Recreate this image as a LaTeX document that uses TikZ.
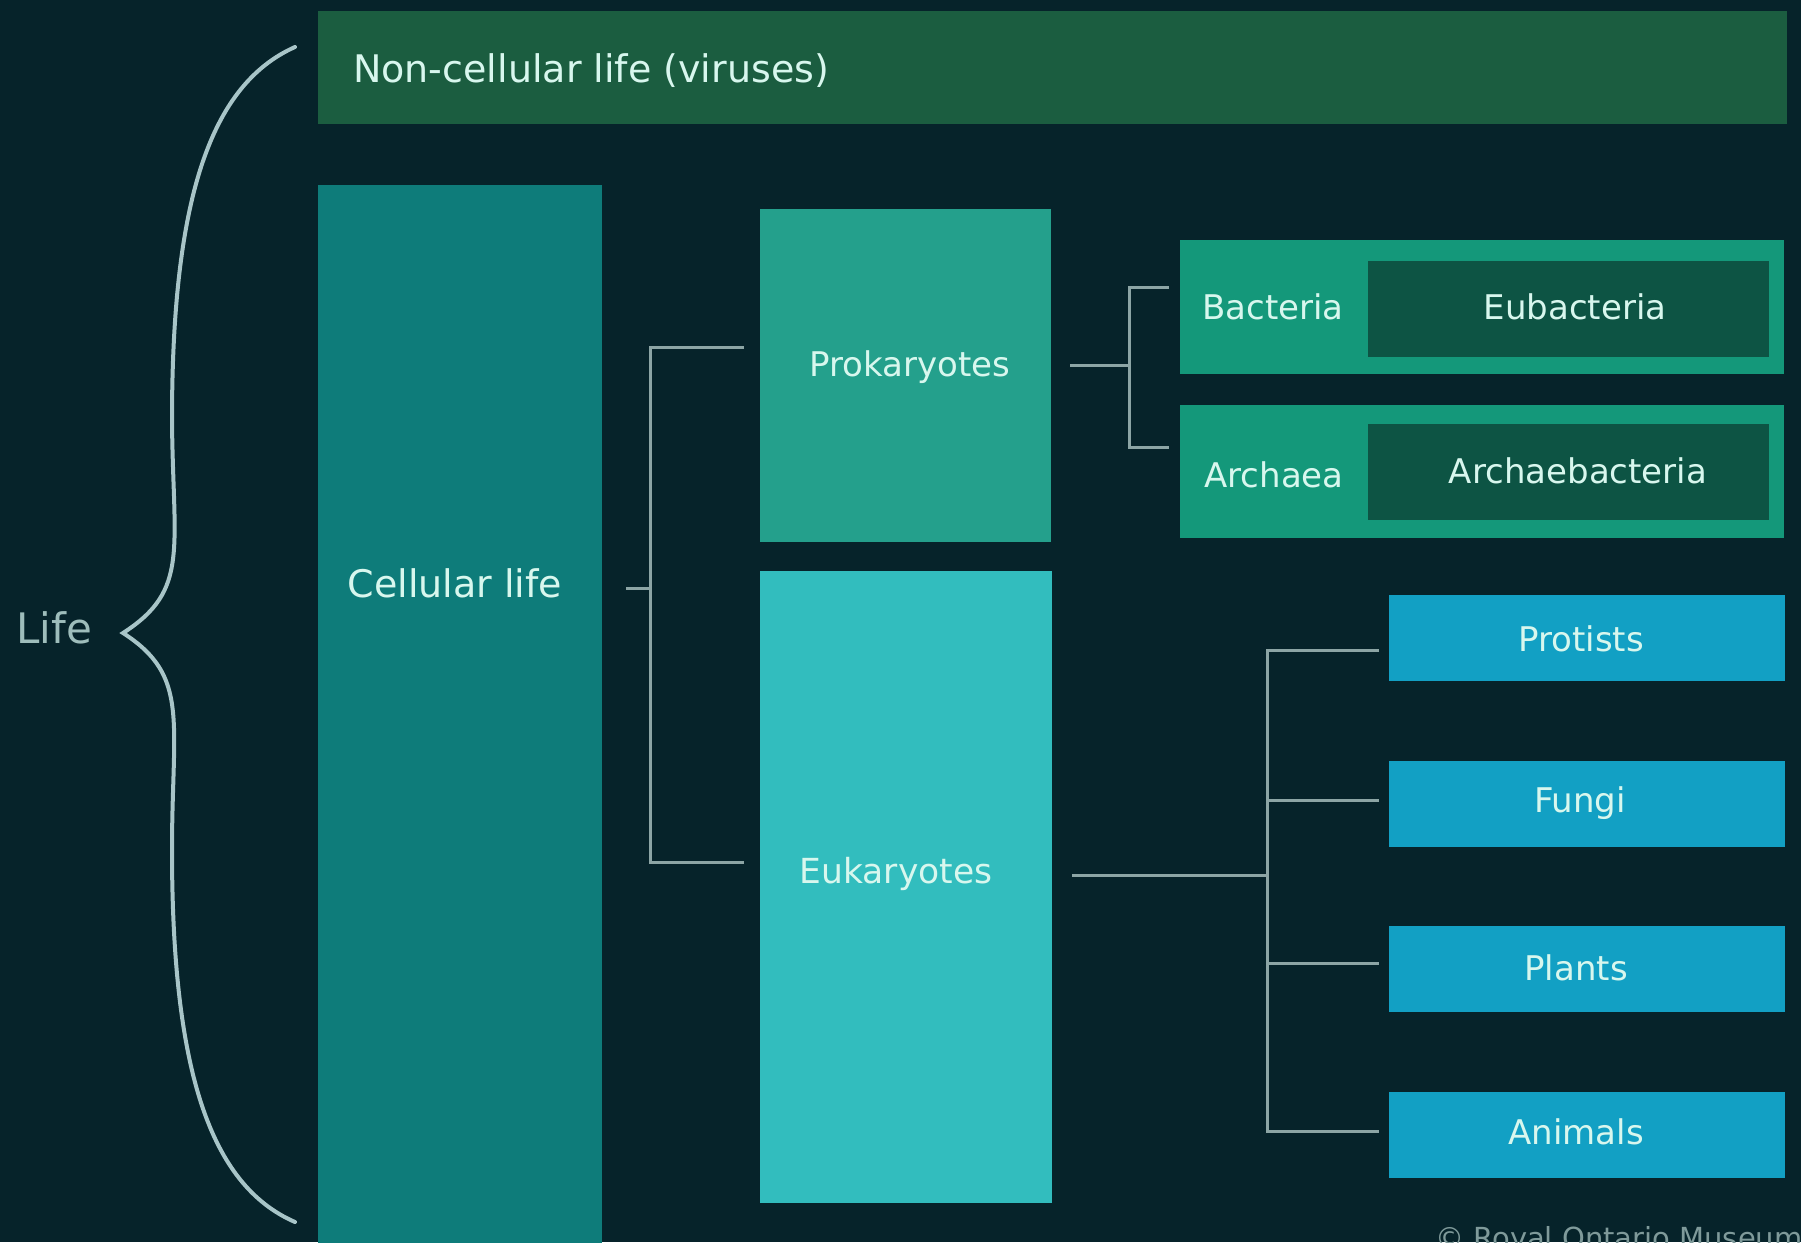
\documentclass[tikz,border=0pt]{standalone}
\usepackage{fontspec}
\setmainfont{DejaVu Sans}
\usetikzlibrary{calc}
\definecolor{bg}{HTML}{06232A}
\definecolor{noncell}{HTML}{1B5D40}
\definecolor{cellc}{HTML}{0E7C7A}
\definecolor{prokc}{HTML}{24A08C}
\definecolor{eukc}{HTML}{32BDBE}
\definecolor{domouter}{HTML}{14987A}
\definecolor{dominner}{HTML}{0D5444}
\definecolor{kingc}{HTML}{12A0C4}
\definecolor{txt}{HTML}{D8F7EE}
\definecolor{linec}{HTML}{8CA5A5}
\definecolor{bracec}{HTML}{A8C5C8}
\definecolor{lifec}{HTML}{9EBDBB}
\definecolor{copyc}{HTML}{7F9A9A}
\tikzset{
  box/.style={draw=none, inner sep=0pt, outer sep=0pt, anchor=north west},
  lbl/.style={text=txt, inner sep=0pt, anchor=base},
  conn/.style={draw=linec, line width=3pt},
}
\newcommand{\fsz}[1]{\fontsize{#1}{#1}\selectfont}
\begin{document}
\begin{tikzpicture}[x=1pt,y=-1pt]
\clip (0,0) rectangle (1801,1242);
\fill[bg] (0,0) rectangle (1801,1242);

% boxes
\node[box, fill=noncell, minimum width=1469pt, minimum height=113pt] (noncell) at (318,11) {};
\node[box, fill=cellc, minimum width=284pt, minimum height=1080pt] (cell) at (318,185) {};
\node[box, fill=prokc, minimum width=291pt, minimum height=333pt] (prok) at (760,209) {};
\node[box, fill=eukc, minimum width=292pt, minimum height=632pt] (euk) at (760,571) {};
\node[box, fill=domouter, minimum width=604pt, minimum height=134pt] (bact) at (1180,240) {};
\node[box, fill=dominner, minimum width=401pt, minimum height=96pt] (eubact) at (1368,261) {};
\node[box, fill=domouter, minimum width=604pt, minimum height=133pt] (arch) at (1180,405) {};
\node[box, fill=dominner, minimum width=401pt, minimum height=96pt] (archbact) at (1368,424) {};
\node[box, fill=kingc, minimum width=396pt, minimum height=86pt] (prot) at (1389,595) {};
\node[box, fill=kingc, minimum width=396pt, minimum height=86pt] (fung) at (1389,761) {};
\node[box, fill=kingc, minimum width=396pt, minimum height=86pt] (plant) at (1389,926) {};
\node[box, fill=kingc, minimum width=396pt, minimum height=86pt] (anim) at (1389,1092) {};

% labels
\node[lbl, anchor=base west, font=\fsz{38}] (tnon) at (353,82) {Non-cellular life (viruses)};
\node[lbl, font=\fsz{38}] (tcell) at (455,597) {Cellular life};
\node[lbl, text=lifec, font=\fsz{42}] (tlife) at (54,643) {Life};
\node[lbl, font=\fsz{34}] (tprok) at (910,376) {Prokaryotes};
\node[lbl, font=\fsz{34.5}] (teuk) at (896,883) {Eukaryotes};
\node[lbl, font=\fsz{34}] (tbact) at (1273,319) {Bacteria};
\node[lbl, font=\fsz{34}] (teubact) at (1575,319) {Eubacteria};
\node[lbl, font=\fsz{34}] (tarch) at (1274,487) {Archaea};
\node[lbl, font=\fsz{34}] (tarchbact) at (1578,483) {Archaebacteria};
\node[lbl, font=\fsz{34}] (tprot) at (1581,651) {Protists};
\node[lbl, font=\fsz{34}] (tfung) at (1580,812) {Fungi};
\node[lbl, font=\fsz{34}] (tplant) at (1576,980) {Plants};
\node[lbl, font=\fsz{34}] (tanim) at (1576,1144) {Animals};
\node[lbl, anchor=base west, text=copyc, font=\fsz{29}] (tcopy) at (1435,1248) {© Royal Ontario Museum};

% brace
\draw[draw=bracec, line width=4pt, line cap=round]
  (295,47) .. controls (210,85) and (172,200) .. (172,420)
  .. controls (173,550) and (190,590) .. (123,633)
  .. controls (190,676) and (172,720) .. (172,850)
  .. controls (172,1070) and (210,1185) .. (295,1222);

% cellular bracket
\coordinate (cm) at (650,588);
\coordinate (ct) at (650,347);
\coordinate (cb) at (650,862);
\draw[conn] ($(cell.east |- cm)+(24,0)$) -- (cm);
\draw[conn] ($(prok.west |- ct)+(-16,0)$) -- (ct) -- (cb) -- ($(euk.west |- cb)+(-16,0)$);

% prokaryote bracket
\coordinate (pm) at (1129,365);
\coordinate (pt) at (1129,287);
\coordinate (pb) at (1129,447);
\draw[conn] ($(prok.east |- pm)+(19,0)$) -- (pm);
\draw[conn] ($(bact.west |- pt)+(-11,0)$) -- (pt) -- (pb) -- ($(arch.west |- pb)+(-11,0)$);

% eukaryote bracket
\coordinate (em) at (1267,875);
\coordinate (e1) at (1267,650);
\coordinate (e2) at (1267,800);
\coordinate (e3) at (1267,963);
\coordinate (e4) at (1267,1131);
\draw[conn] ($(euk.east |- em)+(20,0)$) -- (em);
\draw[conn] ($(prot.west |- e1)+(-10,0)$) -- (e1) -- (e4) -- ($(anim.west |- e4)+(-10,0)$);
\draw[conn] (e2) -- ($(fung.west |- e2)+(-10,0)$);
\draw[conn] (e3) -- ($(plant.west |- e3)+(-10,0)$);
\end{tikzpicture}
\end{document}
